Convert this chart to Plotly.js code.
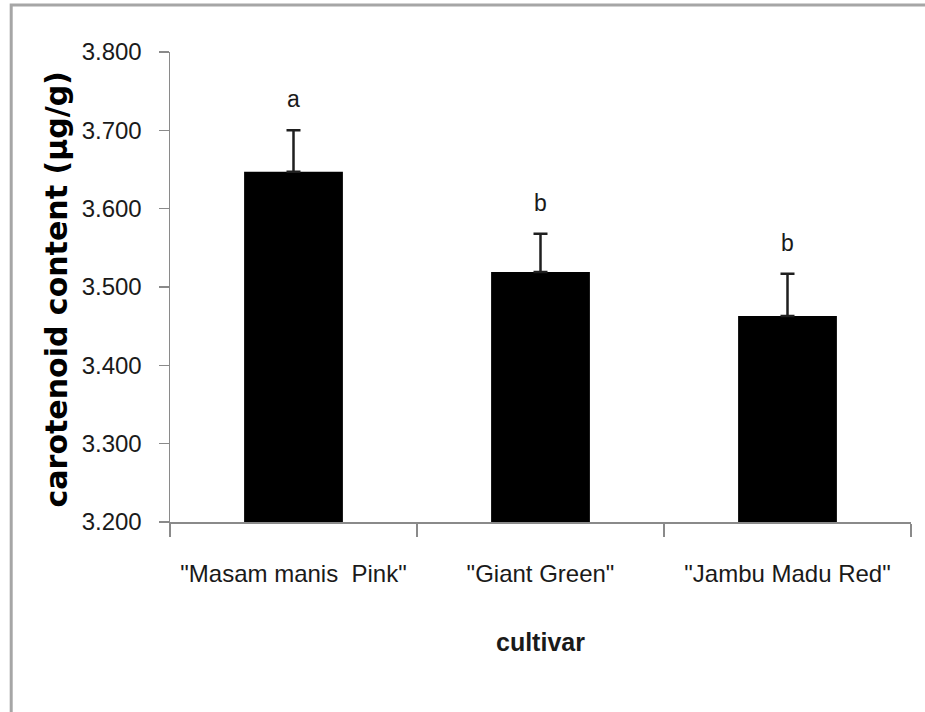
<!DOCTYPE html>
<html>
<head>
<meta charset="utf-8">
<script src="https://cdn.plot.ly/plotly-3.0.1.min.js"></script>
<style>
  html, body { margin: 0; padding: 0; background: #fff; }
  #chart { width: 925px; height: 712px; }
</style>
</head>
<body>
<div id="chart"></div>
<script>
// Carotenoid content per cultivar, mean with standard error
const cultivars = ['"Masam manis  Pink"', '"Giant Green"', '"Jambu Madu Red"'];
const carotenoid = [3.647, 3.519, 3.463];
const stdError = [0.053, 0.049, 0.054];
const noLower = [0, 0, 0];
const groupLetters = ['a', 'b', 'b'];
const yTicks = [3.2, 3.3, 3.4, 3.5, 3.6, 3.7, 3.8];

const sans = '"Liberation Sans", Arial, sans-serif';
const axisGray = '#8a8a8a';
const textColor = '#1a1a1a';

const bars = {
  type: 'bar',
  x: cultivars,
  y: carotenoid,
  base: 0,
  marker: { color: '#000000', line: { width: 0 } },
  error_y: {
    type: 'data',
    symmetric: false,
    array: stdError,
    arrayminus: noLower,
    color: '#1f1f1f',
    thickness: 2.5,
    width: 7
  },
  hoverinfo: 'x+y'
};

// Significance letters sit a fixed distance above each error bar cap
const letters = cultivars.map((c, i) => ({
  x: c,
  y: carotenoid[i] + stdError[i],
  xref: 'x',
  yref: 'y',
  text: groupLetters[i],
  showarrow: false,
  yanchor: 'middle',
  yshift: 31,
  font: { family: sans, size: 23, color: textColor }
}));

// Axis titles
const titles = [
  {
    xref: 'paper', yref: 'paper',
    x: -0.153, y: 0.494,
    xanchor: 'center', yanchor: 'middle',
    textangle: -90,
    text: '<b>carotenoid content (µg/g)</b>',
    showarrow: false,
    font: { family: '"DejaVu Sans", sans-serif', size: 30, color: '#000' }
  },
  {
    xref: 'paper', yref: 'paper',
    x: 0.5, y: -0.255,
    xanchor: 'center', yanchor: 'middle',
    text: '<b>cultivar</b>',
    showarrow: false,
    font: { family: sans, size: 25, color: textColor }
  }
];

const layout = {
  width: 925,
  height: 712,
  margin: { l: 170, r: 14, t: 52, b: 190 },
  paper_bgcolor: '#ffffff',
  plot_bgcolor: '#ffffff',
  showlegend: false,
  bargap: 0.6,
  xaxis: {
    type: 'category',
    tickson: 'boundaries',
    ticks: 'outside',
    ticklen: 13,
    tickwidth: 1.5,
    tickcolor: axisGray,
    tickangle: 0,
    showline: true,
    linecolor: axisGray,
    linewidth: 1.5,
    showgrid: false,
    zeroline: false,
    ticklabelstandoff: 30,
    tickfont: { family: sans, size: 24, color: textColor },
    automargin: false
  },
  yaxis: {
    range: [3.2, 3.8],
    tickvals: yTicks,
    tickformat: '.3f',
    ticks: 'outside',
    ticklen: 10,
    tickwidth: 1.5,
    tickcolor: axisGray,
    showline: true,
    linecolor: axisGray,
    linewidth: 1.5,
    showgrid: false,
    zeroline: false,
    ticklabelstandoff: 12,
    tickfont: { family: sans, size: 24, color: textColor },
    automargin: false
  },
  annotations: letters.concat(titles),
  shapes: [
    // outer chart frame, running off the right and bottom edges
    {
      type: 'rect', xref: 'paper', yref: 'paper',
      x0: -0.2143, x1: 1.03, y0: -0.43, y1: 1.1,
      line: { color: '#a6a6a6', width: 3 },
      fillcolor: 'rgba(0,0,0,0)',
      layer: 'below'
    }
  ]
};

Plotly.newPlot('chart', [bars], layout, { displayModeBar: false, staticPlot: true });
</script>
</body>
</html>
